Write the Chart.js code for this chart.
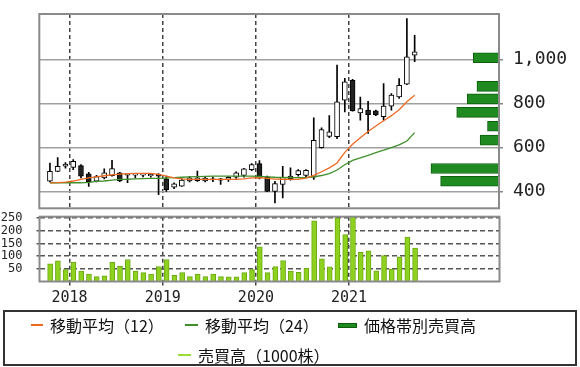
<!DOCTYPE html>
<html><head><meta charset="utf-8">
<script src="https://cdn.jsdelivr.net/npm/chart.js@4.4.1/dist/chart.umd.min.js"></script>
<style>
html,body{margin:0;padding:0;background:#fff;width:580px;height:367px;overflow:hidden;}
canvas{position:absolute;left:0;}
#c1{top:0;}
#c2{top:210px;}
#legend{position:absolute;left:3px;top:310px;width:570px;height:52px;border:2px solid #333;font-family:"Noto Sans CJK JP",sans-serif;font-size:16px;color:#111;}
.item{position:absolute;display:flex;align-items:center;height:22px;white-space:nowrap;line-height:22px;}
.mk{display:inline-block;margin-right:7px;}
</style></head><body>
<canvas id="c1" width="580" height="212"></canvas>
<canvas id="c2" width="580" height="98"></canvas>
<div id="legend">
  <div class="item" style="left:26px;top:2px"><span class="mk" style="width:12px;height:2px;background:#ee6a22"></span>移動平均（12）</div>
  <div class="item" style="left:180px;top:2px"><span class="mk" style="width:13px;height:2px;background:#3f8f2a"></span>移動平均（24）</div>
  <div class="item" style="left:333px;top:2px"><span class="mk" style="width:19px;height:5px;background:#1f8a1f;border:1px solid #0d5f0d;box-sizing:border-box"></span>価格帯別売買高</div>
  <div class="item" style="left:173px;top:32px"><span class="mk" style="width:13px;height:2px;background:#99dd33"></span>売買高（1000株）</div>
</div>
<script>
// ---- data ----
const months = ["2017-10","2017-11","2017-12",
 "2018-01","2018-02","2018-03","2018-04","2018-05","2018-06","2018-07","2018-08","2018-09","2018-10","2018-11","2018-12",
 "2019-01","2019-02","2019-03","2019-04","2019-05","2019-06","2019-07","2019-08","2019-09","2019-10","2019-11","2019-12",
 "2020-01","2020-02","2020-03","2020-04","2020-05","2020-06","2020-07","2020-08","2020-09","2020-10","2020-11","2020-12",
 "2021-01","2021-02","2021-03","2021-04","2021-05","2021-06","2021-07","2021-08","2021-09"];
const open  = [447,492,515, 510,518,481,447,462,472,485,474,474,474,472,478, 458,420,425,448,449,448,453,452,455,465,473,500, 527,467,401,432,459,477,473,465,600,651,650,815, 906,758,770,767,740,788,830,888,1020];
const high  = [530,555,532, 545,523,487,474,503,542,487,482,481,481,479,482, 470,440,458,468,493,465,466,460,468,490,506,527, 541,470,447,515,508,500,500,735,690,745,975,915, 910,830,810,770,891,845,914,1186,1110];
const low   = [444,490,506, 500,462,424,444,458,470,445,440,462,467,465,386, 401,413,424,444,446,444,445,433,446,460,465,495, 458,400,349,371,452,470,468,455,597,645,640,762, 765,724,664,745,724,770,823,886,990];
const close = [492,515,525, 538,470,445,468,485,505,448,481,480,480,478,470, 409,435,452,462,462,461,458,458,465,485,503,523, 462,401,436,465,470,495,497,633,682,672,808,899, 767,777,750,748,788,838,883,1012,1035];
const ma12  = [440,441,443, 448,455,462,467,472,476,479,482,483,483,483,478, 470,462,458,456,455,455,455,455,455,456,458,462, 463,460,457,456,455,456,461,474,490,508,530,578, 615,645,673,698,722,745,772,808,838];
const ma24  = [440,440,440, 440,440,442,446,448,452,455,456,458,459,460,460, 462,463,465,467,468,469,470,470,470,470,470,470, 469,467,465,464,463,463,464,467,473,482,498,522, 542,553,565,577,588,600,612,630,668];
const volume= [70,82,47, 77,41,29,19,22,76,60,87,41,35,29,59, 87,24,35,19,29,19,29,19,18,18,35,47, 137,35,59,83,41,36,52,240,90,58,252,185, 270,115,121,42,102,49,97,175,132];
const bandPrice  = [447,505,634,697,760,821,878,1008];
const bandVolume = [12.7,14.8,4.1,2.5,9.2,6.9,4.8,5.6];
const yearTicks  = [0,12,24,36];
const yearLabels = ["2018","2019","2020","2021"];
const priceTicks = [400,600,800,1000];
const volTicks   = [50,100,150,200,250];

// month index -> position in months since Jan 2018 (bar at mid-month)
const mx = i => i - 2.5;
const XMIN = -3.87, XMAX = 55.37;

const boxPlugin = {
  id:'box',
  afterDraw(chart){
    const a = chart.chartArea, ctx = chart.ctx;
    ctx.save();
    ctx.strokeStyle = '#8a8a8a'; ctx.lineWidth = 2;
    ctx.strokeRect(a.left, a.top, a.right-a.left, a.bottom-a.top);
    ctx.restore();
  }
};
const noPad = s => { s.paddingTop = 0; s.paddingBottom = 0; s.paddingLeft = 0; s.paddingRight = 0; };

const mono = 'DejaVu Sans Mono';

new Chart(document.getElementById('c1'), {
  type:'line',
  data:{ datasets:[
    { type:'line', label:'移動平均（12）', data: months.map((m,i)=>({x:mx(i), y:ma12[i]})),
      borderColor:'#ee6a22', borderWidth:1.3, pointRadius:0, tension:0, order:1 },
    { type:'line', label:'移動平均（24）', data: months.map((m,i)=>({x:mx(i), y:ma24[i]})),
      borderColor:'#3f8f2a', borderWidth:1.3, pointRadius:0, tension:0, order:1 },
    { type:'bar', label:'body', data: months.map((m,i)=>({x:mx(i), y:[open[i], close[i]]})),
      backgroundColor: months.map((m,i)=> close[i] >= open[i] ? '#ffffff' : '#222222'),
      borderColor:'#000', borderWidth:1, borderSkipped:false, barThickness:5, grouped:false, order:2 },
    { type:'bar', label:'wick', data: months.map((m,i)=>({x:mx(i), y:[low[i], high[i]]})),
      backgroundColor:'#000', borderWidth:0, barThickness:1, grouped:false, order:3 },
    { type:'bar', label:'価格帯別売買高', indexAxis:'y', xAxisID:'xp', yAxisID:'y',
      data: bandPrice.map((p,i)=>({x:bandVolume[i], y:p})),
      backgroundColor:'#1f8a1f', borderColor:'#0d5f0d', borderWidth:1, borderSkipped:false,
      barThickness:10, grouped:false, order:4 }
  ]},
  options:{
    responsive:false, animation:false, devicePixelRatio:1,
    layout:{ padding:{ left:39.3, top:14, right:0, bottom:3.7 } },
    plugins:{ legend:{display:false}, tooltip:{enabled:false} },
    scales:{
      x:{ type:'linear', min:XMIN, max:XMAX, offset:false, position:'bottom',
          afterBuildTicks: s => { s.ticks = yearTicks.map(v=>({value:v})); },
          afterFit: s => { s.height = 0; noPad(s); },
          ticks:{ display:false },
          grid:{ offset:false, color:'#444', lineWidth:1.5, drawTicks:false },
          border:{ display:false, dash:[4,3] } },
      xp:{ type:'linear', axis:'x', display:false, min:0, max:100, reverse:true, offset:false, grid:{offset:false} },
      y:{ type:'linear', position:'right', min:324, max:1207, offset:false,
          afterBuildTicks: s => { s.ticks = priceTicks.map(v=>({value:v})); },
          afterFit: s => { s.width = 81; noPad(s); },
          ticks:{ padding:10, color:'#222', autoSkip:false, font:{ family:mono, size:18 },
                  callback: v => v.toLocaleString('en-US') },
          grid:{ offset:false, color:'#a0a0a0', lineWidth:1.5, tickLength:4, tickColor:'#888' },
          border:{ display:false } }
    }
  },
  plugins:[boxPlugin]
});

new Chart(document.getElementById('c2'), {
  type:'bar',
  data:{ datasets:[
    { label:'売買高（1000株）', data: months.map((m,i)=>({x:mx(i), y:volume[i]})),
      backgroundColor:'#8fd11f', borderColor:'#6aa912', borderWidth:1, borderSkipped:'bottom', barThickness:5 }
  ]},
  options:{
    responsive:false, animation:false, devicePixelRatio:1,
    layout:{ padding:{ left:0, top:6.7, right:80.5, bottom:0 } },
    plugins:{ legend:{display:false}, tooltip:{enabled:false} },
    scales:{
      x:{ type:'linear', min:XMIN, max:XMAX, offset:false,
          afterBuildTicks: s => { s.ticks = yearTicks.map(v=>({value:v})); },
          afterFit: s => { s.height = 26.5; noPad(s); },
          ticks:{ padding:4, color:'#222', font:{ family:mono, size:15 }, maxRotation:0, autoSkip:false,
                  callback: v => yearLabels[yearTicks.indexOf(v)] },
          grid:{ offset:false, color:'#444', lineWidth:1.5, tickLength:4 },
          border:{ display:false, dash:[4,3] } },
      y:{ type:'linear', position:'left', min:0, max:256, offset:false,
          afterBuildTicks: s => { s.ticks = volTicks.map(v=>({value:v})); },
          afterFit: s => { s.width = 39.5; noPad(s); },
          ticks:{ padding:14, color:'#222', autoSkip:false, font:{ family:mono, size:12 } },
          grid:{ offset:false, color:'#555', lineWidth:1.5, tickLength:3 },
          border:{ display:false, dash:[5,3] } }
    }
  },
  plugins:[boxPlugin]
});
</script>
</body></html>
